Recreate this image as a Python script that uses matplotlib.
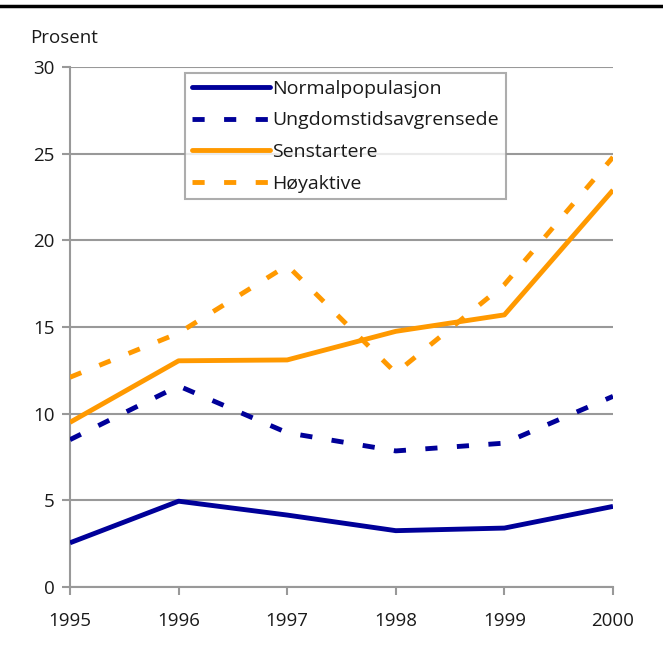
import matplotlib

matplotlib.use("Agg")
import matplotlib.pyplot as plt  # noqa: E402
from matplotlib.lines import Line2D  # noqa: E402

plt.rcParams["font.family"] = ["Open Sans", "DejaVu Sans"]

years = [1995, 1996, 1997, 1998, 1999, 2000]
normalpop = [2.55, 4.95, 4.15, 3.25, 3.4, 4.65]
ungdom = [8.5, 11.6, 8.9, 7.85, 8.3, 11.0]
senstartere = [9.5, 13.05, 13.1, 14.75, 15.7, 22.9]
hoyaktive = [12.1, 14.65, 18.55, 12.35, 17.45, 24.8]

NAVY = "#000099"
ORANGE = "#FF9900"
GRID = "#999999"
TEXT = "#1a1a1a"

fig = plt.figure(figsize=(6.63, 6.51), dpi=100)
ax = fig.add_axes([70 / 663, 1 - 587 / 651, 543 / 663, 520 / 651])

lw = 3.5
dash = (2.5, 4.0)
ax.plot(years, normalpop, color=NAVY, lw=lw, solid_capstyle="butt", zorder=3)
ax.plot(years, ungdom, color=NAVY, lw=lw, dashes=dash, dash_capstyle="butt", zorder=3)
ax.plot(years, senstartere, color=ORANGE, lw=lw, solid_capstyle="butt", zorder=3)
ax.plot(years, hoyaktive, color=ORANGE, lw=lw, dashes=dash, dash_capstyle="butt", zorder=3)

ax.set_xlim(1995, 2000)
ax.set_ylim(0, 30)
ax.set_xticks(years)
ax.set_yticks(range(0, 31, 5))
ax.tick_params(labelsize=13.5, colors=GRID, labelcolor=TEXT, width=1.5, length=6)
ax.tick_params(axis="x", pad=12)
ax.tick_params(axis="y", pad=5)
for side in ("top", "right"):
    ax.spines[side].set_visible(False)
for side in ("left", "bottom"):
    ax.spines[side].set_color(GRID)
    ax.spines[side].set_linewidth(1.5)
ax.yaxis.grid(True, color=GRID, lw=1.5)
ax.set_axisbelow(True)

fig.text(30 / 663, 1 - 38 / 651, "Prosent", fontsize=13.5, color=TEXT, va="center")
fig.add_artist(Line2D([0, 1], [1 - 6 / 651, 1 - 6 / 651], color="black", lw=2.5))

handles = [
    Line2D([], [], color=NAVY, lw=lw, solid_capstyle="round"),
    Line2D([], [], color=NAVY, lw=lw, dashes=dash, dash_capstyle="butt"),
    Line2D([], [], color=ORANGE, lw=lw, solid_capstyle="round"),
    Line2D([], [], color=ORANGE, lw=lw, dashes=dash, dash_capstyle="butt"),
]
labels = ["Normalpopulasjon", "Ungdomstidsavgrensede", "Senstartere", "Høyaktive"]
leg = ax.legend(handles, labels, loc="upper left", bbox_to_anchor=(115 / 543, 514 / 520),
                fontsize=14, frameon=True, fancybox=False, handlelength=4.0,
                handletextpad=0.15, borderpad=0.35, labelspacing=0.7, borderaxespad=0)
for t in leg.get_texts():
    t.set_color(TEXT)
leg.get_frame().set_edgecolor(GRID)
leg.get_frame().set_linewidth(1.5)

fig.savefig("out.png", dpi=100)
